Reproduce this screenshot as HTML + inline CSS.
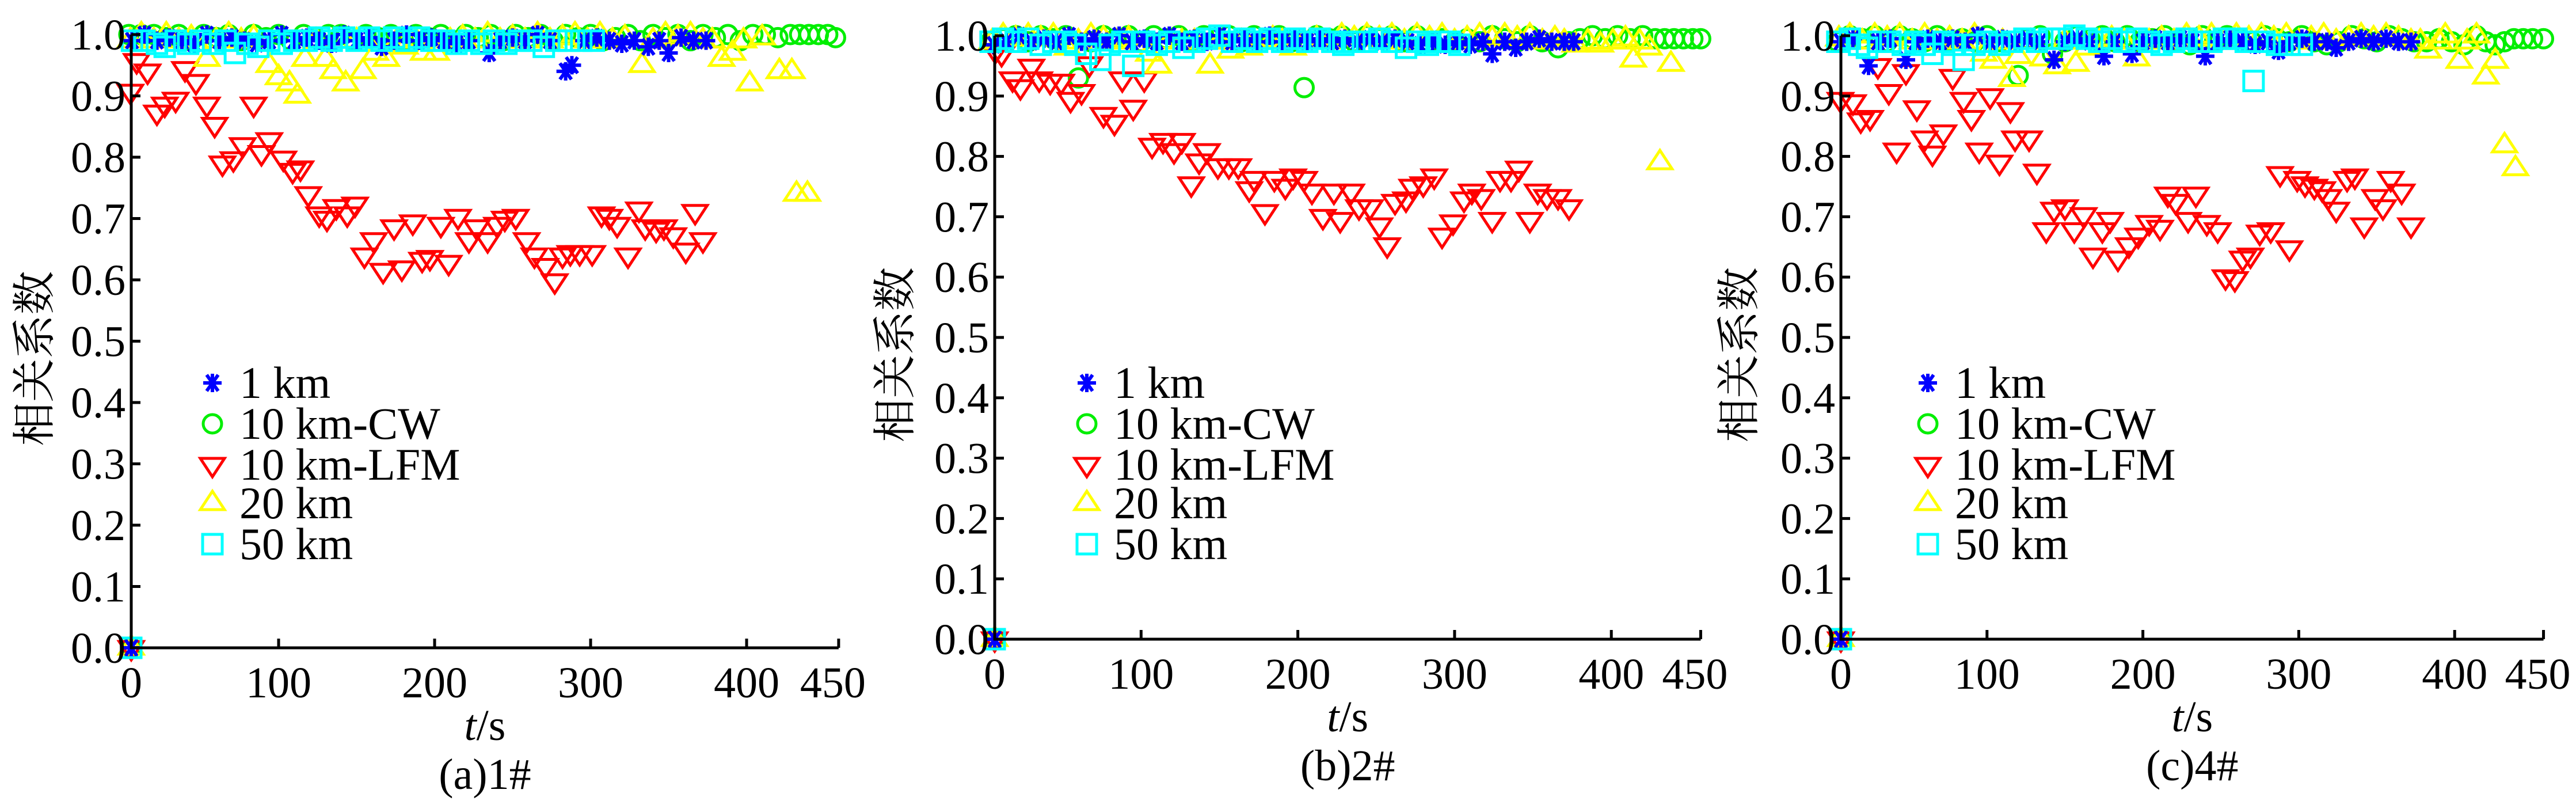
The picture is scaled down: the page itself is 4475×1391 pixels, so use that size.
<!DOCTYPE html>
<html><head><meta charset="utf-8">
<style>
html,body{margin:0;padding:0;background:#fff;}
svg{display:block;font-family:"Liberation Serif","DejaVu Serif",serif;}
svg text{font-family:"Liberation Serif","DejaVu Serif","Noto Serif CJK SC",serif;fill:#000;}
</style></head>
<body>
<svg id="chart" width="4475" height="1391" viewBox="0 0 4475 1391" xmlns="http://www.w3.org/2000/svg"></svg>
<script>
// ---- shared tick data ----
const yTickValues = [0,0.1,0.2,0.3,0.4,0.5,0.6,0.7,0.8,0.9,1.0];
const yTickLabels = ["0.0","0.1","0.2","0.3","0.4","0.5","0.6","0.7","0.8","0.9","1.0"];
const xTickValues = [0,100,200,300,400];
const xTickLabels = ["0","100","200","300","400"];
const xEndLabel = "450";
const seriesNames = ["1 km","10 km-CW","10 km-LFM","20 km","50 km"];
const panelCaptions = ["(a)1#","(b)2#","(c)4#"];

// ---- panel (a) 1# ----
const p1Blue = [[0,0],[6,0.99],[14,1.0],[22,0.99],[30,0.995],[38,0.99],[46,0.985],[54,1.0],[62,0.99],[70,0.995],[78,0.99],[86,0.985],[94,0.99],[102,1.0],[110,0.99],[118,0.995],[126,0.99],[134,0.985],[142,1.0],[150,0.99],[158,0.995],[166,0.98],[174,0.99],[182,1.0],[190,0.99],[198,0.995],[206,0.99],[214,0.985],[222,0.99],[235,0.97],[242,0.99],[250,0.995],[258,0.99],[266,1.0],[274,0.99],[284,0.94],[288,0.95],[296,0.99],[304,0.995],[312,0.99],[320,0.985],[328,0.99],[337,0.98],[344,0.99],[350,0.97],[358,0.995],[366,0.99],[374,0.99]];
const p1Green = [[0,0],[4,1.0],[12,1.0],[20,1.0],[28,0.995],[36,1.0],[44,0.99],[52,1.0],[60,0.995],[68,1.0],[76,0.99],[84,1.0],[92,0.995],[100,1.0],[108,0.99],[116,1.0],[124,0.995],[132,1.0],[140,1.0],[148,0.99],[156,1.0],[164,0.995],[172,1.0],[180,0.99],[188,1.0],[196,0.995],[204,1.0],[212,0.99],[220,1.0],[228,0.995],[236,1.0],[244,0.99],[252,1.0],[260,0.995],[268,1.0],[276,0.99],[284,1.0],[292,0.995],[300,1.0],[308,0.99],[316,0.995],[324,1.0],[332,0.99],[340,1.0],[348,0.995],[356,1.0],[364,0.99],[372,1.0],[380,0.995],[388,1.0],[396,0.99],[404,1.0],[412,1.0],[420,0.995],[428,1.0],[434,1.0],[440,1.0],[446,1.0],[452,1.0],[457,0.995]];
const p1Red = [[0,0],[5,0.907],[9,0.957],[16,0.94],[22,0.873],[27,0.886],[34,0.894],[40,0.944],[47,0.923],[54,0.886],[59,0.853],[64,0.79],[71,0.797],[77,0.82],[84,0.886],[89,0.807],[94,0.828],[103,0.798],[109,0.778],[114,0.782],[119,0.74],[126,0.707],[131,0.70],[137,0.719],[144,0.707],[149,0.723],[155,0.64],[161,0.665],[167,0.615],[174,0.686],[179,0.619],[186,0.694],[192,0.633],[197,0.636],[204,0.69],[209,0.628],[215,0.703],[222,0.665],[227,0.686],[234,0.665],[240,0.69],[245,0.70],[252,0.703],[259,0.665],[264,0.64],[271,0.623],[277,0.598],[282,0.64],[287,0.644],[293,0.644],[301,0.644],[307,0.707],[312,0.703],[317,0.69],[324,0.64],[331,0.715],[335,0.686],[342,0.682],[347,0.686],[353,0.673],[361,0.648],[367,0.711],[372,0.665]];
const p1Yellow = [[0,0],[5,0.99],[12,1.0],[20,0.99],[28,1.0],[36,0.99],[44,0.995],[54,0.96],[60,0.99],[68,1.0],[76,0.99],[84,0.995],[94,0.95],[100,0.93],[107,0.92],[112,0.90],[117,0.96],[124,0.99],[130,0.96],[135,0.94],[143,0.92],[150,0.99],[154,0.94],[162,0.97],[169,0.96],[176,0.99],[181,0.98],[188,0.99],[193,0.97],[201,0.97],[210,0.99],[218,0.995],[226,0.99],[234,1.0],[242,0.99],[250,0.995],[258,0.99],[266,1.0],[274,0.99],[282,0.995],[290,1.0],[298,0.99],[306,1.0],[314,0.99],[322,0.995],[333,0.95],[340,0.99],[348,1.0],[356,0.995],[364,1.0],[372,0.99],[378,0.99],[384,0.96],[391,0.97],[398,0.99],[402,0.92],[410,0.995],[421,0.94],[429,0.94],[432,0.74],[439,0.74]];
const p1Cyan = [[0,0],[6,0.99],[14,0.99],[22,0.985],[27,0.98],[34,0.99],[42,0.985],[50,0.99],[58,0.985],[66,0.99],[72,0.97],[80,0.985],[87,0.98],[94,0.99],[102,0.985],[110,0.99],[118,0.99],[126,0.995],[134,0.99],[142,0.995],[150,0.99],[158,0.995],[166,0.99],[174,0.995],[182,0.99],[190,0.995],[198,0.99],[206,0.99],[214,0.985],[222,0.99],[230,0.985],[238,0.99],[246,0.985],[254,0.99],[262,0.99],[270,0.98],[278,0.99],[286,0.99],[294,0.99],[302,0.99]];

// ---- panel (b) 2# ----
const p2Blue = [[0,0],[6,0.985],[14,0.99],[22,1.0],[30,0.99],[38,0.995],[46,0.99],[54,1.0],[62,0.99],[70,0.995],[78,0.99],[86,1.0],[94,0.99],[102,0.995],[110,0.99],[118,1.0],[126,0.99],[134,0.995],[142,0.99],[150,1.0],[158,0.99],[166,0.995],[174,0.99],[182,1.0],[190,0.99],[198,0.995],[206,0.99],[214,0.995],[222,0.99],[230,0.995],[238,0.99],[246,0.995],[254,0.99],[262,0.995],[270,0.99],[278,0.985],[286,0.99],[294,0.985],[302,0.99],[310,0.985],[318,0.99],[324,0.97],[332,0.99],[339,0.98],[346,0.99],[354,0.995],[362,0.99],[370,0.99],[376,0.99]];
const p2Green = [[0,0],[4,0.99],[12,0.995],[20,1.0],[28,0.99],[36,1.0],[44,0.995],[52,1.0],[60,0.93],[68,0.99],[76,1.0],[84,0.995],[92,1.0],[100,0.99],[108,1.0],[116,0.995],[124,1.0],[132,0.99],[140,1.0],[148,0.995],[156,1.0],[164,0.99],[172,1.0],[180,0.995],[188,1.0],[196,0.99],[204,0.914],[212,1.0],[220,0.995],[228,1.0],[236,0.99],[244,1.0],[252,0.995],[260,1.0],[268,0.99],[276,1.0],[284,0.99],[292,0.995],[300,0.99],[308,0.995],[316,0.99],[324,1.0],[332,0.995],[340,0.99],[348,1.0],[356,0.99],[366,0.98],[373,0.99],[380,0.995],[388,1.0],[396,0.995],[404,1.0],[412,0.995],[420,1.0],[428,0.995],[434,0.995],[440,0.995],[446,0.995],[452,0.995],[457,0.995]];
const p2Red = [[0,0],[7,0.975],[11,0.97],[18,0.928],[23,0.915],[30,0.949],[35,0.928],[42,0.924],[49,0.924],[55,0.894],[62,0.907],[67,0.953],[76,0.869],[83,0.856],[88,0.928],[95,0.881],[102,0.928],[107,0.818],[114,0.826],[121,0.809],[126,0.826],[132,0.754],[137,0.792],[142,0.809],[149,0.784],[156,0.784],[162,0.784],[169,0.746],[172,0.763],[179,0.708],[185,0.763],[192,0.75],[197,0.767],[204,0.763],[209,0.742],[216,0.70],[223,0.742],[227,0.695],[234,0.742],[239,0.716],[246,0.716],[252,0.686],[257,0.653],[262,0.725],[269,0.729],[273,0.75],[280,0.754],[287,0.767],[292,0.669],[299,0.691],[306,0.729],[311,0.742],[317,0.733],[324,0.695],[329,0.763],[336,0.763],[341,0.78],[348,0.695],[353,0.742],[359,0.733],[366,0.733],[373,0.716]];
const p2Yellow = [[0,0],[5,0.99],[12,1.0],[20,0.995],[28,1.0],[36,0.995],[44,1.0],[53,0.98],[60,0.99],[68,1.0],[76,0.995],[84,0.99],[92,0.995],[105,0.97],[111,0.95],[118,0.99],[126,0.99],[134,0.99],[144,0.95],[150,0.99],[157,0.975],[164,0.99],[169,0.98],[176,0.99],[184,0.995],[190,0.99],[197,0.98],[204,0.99],[212,0.995],[220,0.99],[228,1.0],[236,0.995],[244,1.0],[252,0.995],[260,1.0],[268,0.99],[276,1.0],[284,0.995],[292,1.0],[300,0.99],[308,0.995],[316,1.0],[324,0.995],[332,1.0],[340,0.995],[348,1.0],[356,0.99],[364,0.995],[370,0.99],[377,0.985],[385,0.99],[393,0.985],[401,0.99],[409,0.995],[414,0.96],[418,0.99],[424,0.98],[431,0.79],[438,0.953]];
const p2Cyan = [[0,0],[4,0.99],[12,0.995],[20,0.99],[28,0.995],[36,0.985],[44,0.99],[52,0.99],[58,0.985],[65,0.97],[74,0.96],[80,0.985],[88,0.99],[95,0.95],[102,0.99],[110,0.985],[118,0.99],[127,0.98],[134,0.99],[142,0.995],[150,1.0],[158,0.99],[166,0.995],[174,0.99],[182,0.995],[190,0.99],[198,0.995],[206,0.99],[214,0.995],[222,0.99],[229,0.985],[236,0.99],[244,0.99],[252,0.995],[260,0.99],[269,0.98],[276,0.99],[283,0.985],[290,0.99],[297,0.99],[303,0.985]];

// ---- panel (c) 4# ----
const p3Blue = [[0,0],[6,0.99],[14,0.995],[24,0.95],[30,0.99],[38,0.995],[48,0.96],[54,0.99],[62,0.995],[70,0.99],[78,0.995],[86,0.99],[94,1.0],[102,0.99],[110,0.995],[118,0.99],[126,0.995],[134,0.99],[143,0.96],[150,0.99],[158,0.995],[166,0.99],[175,0.966],[182,0.99],[193,0.97],[200,0.99],[208,0.995],[216,0.99],[224,0.995],[232,0.99],[240,0.966],[248,0.99],[256,0.995],[264,0.99],[272,0.985],[280,0.99],[287,0.975],[294,0.99],[302,0.995],[310,0.99],[318,0.99],[324,0.98],[332,0.99],[340,0.995],[348,0.99],[356,0.995],[364,0.99],[372,0.99]];
const p3Green = [[0,0],[4,0.99],[12,1.0],[20,0.995],[28,1.0],[36,0.99],[44,1.0],[52,0.995],[60,0.99],[68,1.0],[76,0.99],[84,0.995],[92,0.99],[100,1.0],[108,0.99],[120,0.934],[126,0.995],[134,1.0],[142,0.97],[150,0.99],[158,1.0],[166,0.995],[174,1.0],[182,0.99],[190,1.0],[198,0.99],[206,0.995],[214,1.0],[222,0.99],[230,0.985],[238,1.0],[246,0.99],[254,1.0],[262,0.995],[270,0.99],[278,1.0],[286,0.995],[294,0.99],[302,1.0],[310,0.99],[318,0.985],[326,0.99],[334,1.0],[342,0.995],[350,0.99],[358,1.0],[366,0.995],[374,0.99],[382,0.99],[390,0.995],[398,0.99],[406,0.985],[414,1.0],[420,0.99],[426,0.985],[432,0.99],[438,0.995],[444,0.995],[450,0.995],[457,0.995]];
const p3Red = [[0,0],[6,0.894],[14,0.89],[19,0.86],[25,0.864],[30,0.95],[37,0.907],[42,0.81],[48,0.94],[55,0.88],[60,0.83],[65,0.805],[72,0.84],[78,0.932],[85,0.894],[90,0.864],[95,0.81],[102,0.90],[108,0.79],[115,0.877],[118,0.83],[127,0.83],[132,0.775],[138,0.678],[143,0.712],[150,0.716],[156,0.678],[162,0.703],[168,0.636],[174,0.678],[179,0.695],[184,0.631],[191,0.653],[197,0.669],[204,0.69],[211,0.682],[216,0.737],[221,0.725],[229,0.695],[234,0.737],[241,0.69],[248,0.678],[253,0.60],[259,0.597],[264,0.631],[269,0.636],[275,0.674],[282,0.678],[288,0.771],[294,0.648],[299,0.763],[304,0.754],[310,0.75],[315,0.746],[319,0.733],[324,0.712],[331,0.763],[336,0.767],[342,0.686],[349,0.733],[354,0.716],[359,0.763],[366,0.742],[372,0.686]];
const p3Yellow = [[0,0],[5,0.995],[12,1.0],[20,0.99],[28,1.0],[36,0.995],[44,1.0],[52,0.99],[60,1.0],[68,0.99],[76,0.995],[84,0.99],[92,1.0],[98,0.97],[104,0.958],[110,0.99],[116,0.928],[120,0.966],[128,0.99],[136,0.962],[145,0.949],[150,0.99],[157,0.953],[164,0.98],[172,0.99],[180,0.995],[188,0.99],[196,0.962],[204,0.99],[212,0.995],[220,0.99],[228,1.0],[236,0.995],[244,1.0],[252,0.99],[260,1.0],[268,0.995],[276,1.0],[284,0.995],[292,1.0],[300,0.99],[308,0.995],[316,1.0],[324,0.99],[332,0.995],[340,1.0],[348,0.995],[356,1.0],[364,0.995],[372,0.99],[378,0.99],[383,0.975],[390,0.99],[394,1.0],[403,0.958],[408,0.99],[414,1.0],[420,0.932],[426,0.958],[432,0.818],[439,0.78]];
const p3Cyan = [[0,0],[4,0.99],[12,0.995],[18,0.985],[23,0.98],[30,0.99],[38,0.99],[46,0.985],[54,0.99],[60,0.985],[65,0.97],[72,0.99],[78,0.985],[85,0.96],[92,0.985],[100,0.99],[108,0.985],[116,0.99],[124,0.995],[132,0.99],[140,0.995],[148,0.995],[156,1.0],[164,0.995],[172,0.99],[180,0.995],[188,0.99],[196,0.995],[204,0.99],[212,0.985],[220,0.99],[228,0.995],[236,0.99],[244,0.99],[252,0.995],[260,0.995],[266,0.99],[271,0.925],[278,0.99],[286,0.985],[294,0.985],[302,0.985]];

// ---- layout (positions / styles, not data) ----
const panels = [
  {caption:panelCaptions[0], x0:213, kx:2.71, axisX:228, endT:459, y0:1125, ky:1065, ylabX:60, legX:369,
   series:[p1Blue,p1Green,p1Red,p1Yellow,p1Cyan]},
  {caption:panelCaptions[1], x0:1710, kx:2.723, axisX:1728, endT:457, y0:1110, ky:1048, ylabX:1555, legX:1888,
   series:[p2Blue,p2Green,p2Red,p2Yellow,p2Cyan]},
  {caption:panelCaptions[2], x0:3181, kx:2.708, axisX:3198, endT:457, y0:1110, ky:1048, ylabX:3021, legX:3349,
   series:[p3Blue,p3Green,p3Red,p3Yellow,p3Cyan]}
];
const kinds = ["star","circle","tridown","triup","square"];
const colors = ["#0000ff","#00ee00","#ff0000","#ffff00","#00ffff"];
const legendY = [665,736,807,874,945];
const drawOrder = [1,2,3,0,4];
const SERIF = '"Liberation Serif", "DejaVu Serif", serif';

const NS = "http://www.w3.org/2000/svg";
const svg = document.getElementById("chart");
function mk(tag, attrs, parent){
  const e = document.createElementNS(NS, tag);
  for (const k in attrs) e.setAttribute(k, attrs[k]);
  if (tag === "text") e.setAttribute("font-family", SERIF);
  (parent||svg).appendChild(e);
  return e;
}
function marker(kind, color, cx, cy, parent){
  const g = mk("g", {fill:"none", stroke:color, "stroke-width":5, "stroke-linejoin":"miter"}, parent);
  if (kind==="circle") mk("circle",{cx:cx,cy:cy,r:16},g);
  else if (kind==="square") mk("rect",{x:cx-17,y:cy-17,width:34,height:34},g);
  else if (kind==="tridown") mk("polygon",{points:(cx-21)+","+(cy-11)+" "+(cx+21)+","+(cy-11)+" "+cx+","+(cy+21)},g);
  else if (kind==="triup") mk("polygon",{points:(cx-21)+","+(cy+11)+" "+(cx+21)+","+(cy+11)+" "+cx+","+(cy-21)},g);
  else {
    g.setAttribute("stroke-width",6);
    mk("line",{x1:cx-16,y1:cy,x2:cx+16,y2:cy},g);
    mk("line",{x1:cx-10,y1:cy-14,x2:cx+10,y2:cy+14},g);
    mk("line",{x1:cx+10,y1:cy-14,x2:cx-10,y2:cy+14},g);
    mk("line",{x1:cx,y1:cy-16,x2:cx,y2:cy+16},g);
  }
  return g;
}

panels.forEach((p, pi) => {
  const xs = t => p.x0 + p.kx * t;
  const ys = v => p.y0 - p.ky * v;
  const pg = mk("g", {});
  
  
  const xEnd = xs(p.endT);

  drawOrder.forEach(si => {
    const sg = mk("g", {}, pg);
    
    
    p.series[si].forEach(d => {
      const cx = d[0] === 0 ? p.axisX : xs(d[0]);
      const m = marker(kinds[si], colors[si], cx, ys(d[1]), sg);
      
      
    });
  });

  const ax = mk("g", {stroke:"#000","stroke-width":5,fill:"none"}, pg);
  
  
  mk("line",{x1:p.axisX,y1:ys(1.0),x2:p.axisX,y2:p.y0+2},ax);
  mk("line",{x1:p.axisX-2,y1:p.y0,x2:xEnd,y2:p.y0},ax);
  yTickValues.forEach((v,i) => {
    mk("line",{x1:p.axisX,y1:ys(v),x2:p.axisX+16,y2:ys(v)},ax);
    const t = mk("text",{x:p.axisX-10,y:ys(v)+26,"text-anchor":"end","font-size":76},pg);
    t.textContent = yTickLabels[i];
    
    
  });
  xTickValues.forEach((v,i) => {
    const tx = v === 0 ? p.axisX : xs(v);
    if (v !== 0) mk("line",{x1:tx,y1:p.y0,x2:tx,y2:p.y0-16},ax);
    const t = mk("text",{x:tx,y:p.y0+86,"text-anchor":"middle","font-size":76},pg);
    t.textContent = xTickLabels[i];
    
    
  });
  mk("line",{x1:xEnd,y1:p.y0,x2:xEnd,y2:p.y0-16},ax);
  const te = mk("text",{x:xEnd-10,y:p.y0+86,"text-anchor":"middle","font-size":76},pg);
  te.textContent = xEndLabel;
  
  

  const midX = (p.axisX + xEnd) / 2;
  const xt = mk("text",{x:midX,y:p.y0+160,"text-anchor":"middle","font-size":76},pg);
  xt.innerHTML = '<tspan font-style="italic">t</tspan>/s';
  
  
  const cap = mk("text",{x:midX,y:p.y0+245,"text-anchor":"middle","font-size":76},pg);
  cap.textContent = p.caption;
  
  
  const yt = mk("text",{x:0,y:0,"text-anchor":"middle","font-size":76,transform:"translate("+(p.ylabX+26)+","+((p.y0+ys(1))/2+30)+") rotate(-90)"},pg);
  yt.setAttribute("font-family", '"Noto Serif CJK SC", "Noto Sans CJK SC", serif');
  yt.textContent = "相关系数";
  
  

  const lg = mk("g", {}, pg);
  
  
  seriesNames.forEach((nm, si) => {
    const eg = mk("g", {}, lg);
    
    
    marker(kinds[si], colors[si], p.legX, legendY[si], eg);
    const t = mk("text",{x:p.legX+47,y:legendY[si]+26,"font-size":78},eg);
    t.textContent = nm;
  });
});
</script>
</body></html>
